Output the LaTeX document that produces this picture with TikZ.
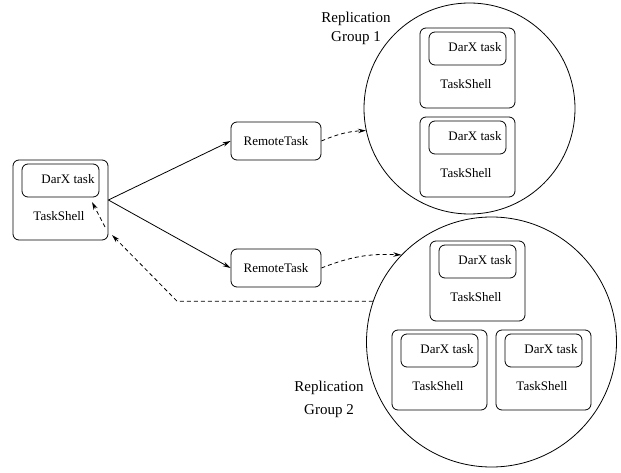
\documentclass[tikz,border=0pt]{standalone}
\usepackage{fontspec}
\setmainfont{Liberation Serif}
\usetikzlibrary{arrows.meta}
\tikzset{
  shellbox/.style={draw, rounded corners=6pt, minimum width=95pt, minimum height=80pt, inner sep=0pt},
  taskbox/.style={draw, rounded corners=6pt, minimum width=77pt, minimum height=33pt, inner sep=0pt},
  remotebox/.style={draw, rounded corners=6pt, minimum width=90pt, minimum height=38pt, inner sep=0pt, font=\fontsize{13}{15}\selectfont},
  lbl/.style={inner sep=0pt, font=\fontsize{13}{15}\selectfont},
  grp/.style={draw, circle, inner sep=0pt},
  glabel/.style={inner sep=0pt, align=center},
  conn/.style={line width=0.8pt, -{Stealth[length=8pt,width=4.5pt]}},
  dconn/.style={conn, dashed, dash pattern=on 4pt off 3pt},
}
\newcommand{\tshellbox}[3]{%
  \begin{scope}[shift={(#2,#3)}]
    \node[shellbox] (#1) at (47.5,40) {};
    \node[taskbox] (#1t) at (47.5,20.5) {};
    \node[lbl] (#1l) at (55,19.5) {DarX task};
    \node[lbl] (#1s) at (46,56) {TaskShell};
  \end{scope}}
\begin{document}
\begin{tikzpicture}[x=1pt, y=-1pt, line width=0.8pt]
\useasboundingbox (0,0) rectangle (621,473);
% replication groups
\node[grp, minimum size=211pt] (C1) at (469.5,108.5) {};
\node[grp, minimum size=250pt] (C2) at (491.5,342) {};
\node[glabel, font=\fontsize{15}{19}\selectfont] (g1) at (356,28) {Replication\\Group 1};
\node[glabel, font=\fontsize{15}{23}\selectfont] (g2) at (329,399) {Replication\\Group 2};
% task shells
\tshellbox{L}{13}{160}
\tshellbox{A}{420}{28}
\tshellbox{B}{420}{117}
\tshellbox{P}{430}{241}
\tshellbox{Q}{392}{330}
\tshellbox{R}{496}{330}
% remote tasks
\node[remotebox] (R1) at (276,141) {RemoteTask};
\node[remotebox] (R2) at (276,268) {RemoteTask};
% connectors
\draw[conn] (L.east) -- (R1.west);
\draw[conn] (L.east) -- (R2.west);
\draw[dconn] (R1.east) to[bend left=10] (C1.192);
\draw[dconn] (R2.east) to[bend left=12] (C2.136);
\coordinate (ret) at (177,301);
\coordinate (rettip) at (112,235);
\draw[dconn] (C2.161) -- (C2.161 -| ret) -- (rettip);
\coordinate (inst) at (105,227);
\coordinate (intip) at (92,202);
\draw[dconn] (inst) -- (intip);
\end{tikzpicture}
\end{document}
